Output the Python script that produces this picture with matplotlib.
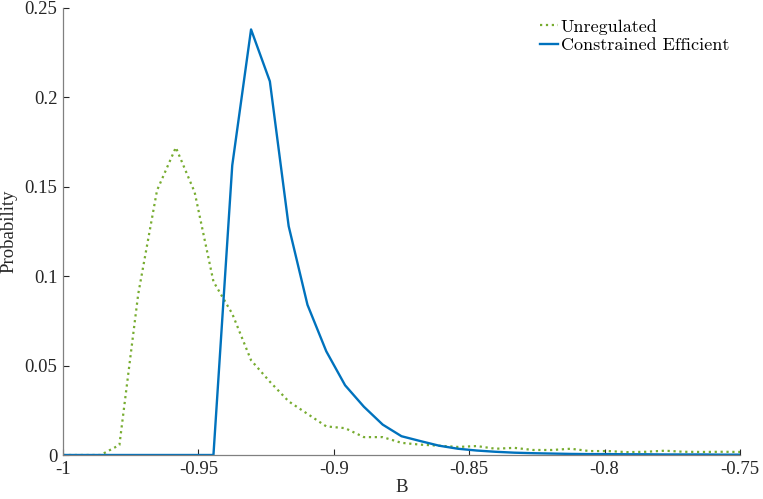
import numpy as np
import matplotlib
matplotlib.use("Agg")
import matplotlib.pyplot as plt
from matplotlib.ticker import FuncFormatter

# grid of B values (37 points from -1 to -0.75)
B = np.linspace(-1, -0.75, 37)

unregulated = [0, 0, 0, 0.0056, 0.090, 0.148, 0.172, 0.147, 0.097, 0.079,
               0.053, 0.041, 0.030, 0.023, 0.016, 0.015, 0.010, 0.010, 0.0068,
               0.0058, 0.0052, 0.0045, 0.0050, 0.0035, 0.0040, 0.0028, 0.0028,
               0.0035, 0.0022, 0.0022, 0.0016, 0.0018, 0.0024, 0.0018, 0.0017,
               0.0018, 0.0017]
constrained = [0, 0, 0, 0, 0, 0, 0, 0, 0, 0.162,
               0.238, 0.209, 0.128, 0.084, 0.058, 0.039, 0.027, 0.017, 0.0105,
               0.0078, 0.0052, 0.0035, 0.0025, 0.0018, 0.0013, 0.0010, 0.0008,
               0.0006, 0.0005, 0.0005, 0.0004, 0.0004, 0.0003, 0.0003, 0.0003,
               0.0002, 0.0002]

plt.rcParams['font.family'] = 'Liberation Serif'
plt.rcParams['axes.unicode_minus'] = False

fig = plt.figure(figsize=(7.63, 4.99), dpi=100)
ax = fig.add_axes([63/763, 1-455/499, 677/763, 447/499])

ax.plot(B, unregulated, ':', color='#77AC30', lw=1.6, label='Unregulated')
ax.plot(B, constrained, '-', color='#0072BD', lw=1.7, label='Constrained Efficient')

ax.set_xlim(-1, -0.75)
ax.set_ylim(0, 0.25)
ax.set_xticks([-1, -0.95, -0.9, -0.85, -0.8, -0.75])
ax.set_yticks([0, 0.05, 0.1, 0.15, 0.2, 0.25])
fmt = FuncFormatter(lambda v, p: '%g' % round(v, 4))
ax.xaxis.set_major_formatter(fmt)
ax.yaxis.set_major_formatter(fmt)

for s in ['top', 'right']:
    ax.spines[s].set_visible(False)
for s in ['left', 'bottom']:
    ax.spines[s].set_color('#808080')
    ax.spines[s].set_linewidth(0.9)
ax.tick_params(direction='in', length=4, width=0.8, color='#262626',
               labelsize=13.5, labelcolor='#262626', pad=4)

ax.set_xlabel('B', fontsize=13.5, color='#262626', labelpad=1)
ax.set_ylabel('Probability', fontsize=13.5, color='#262626', labelpad=5)

leg = ax.legend(loc='upper right', frameon=False, handlelength=1.0,
                handletextpad=0.15, labelspacing=0.15, borderaxespad=0.2,
                prop={'family': 'cmr10', 'size': 13})

fig.savefig('out.png', dpi=100)
